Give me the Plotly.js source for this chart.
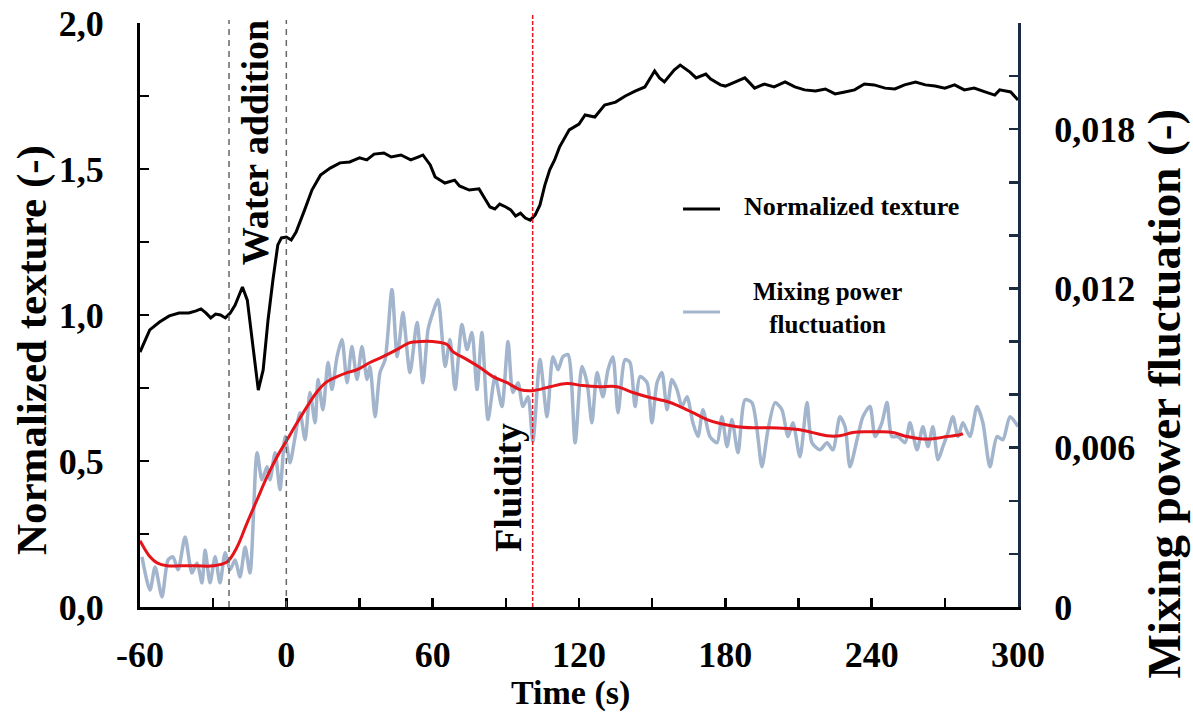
<!DOCTYPE html>
<html>
<head>
<meta charset="utf-8">
<script src="https://cdn.plot.ly/plotly-3.0.1.min.js"></script>
<style>html,body{margin:0;padding:0;background:#fff;}#chart{width:1193px;height:715px;}</style>
</head>
<body>
<div id="chart"></div>
<script>
// ---- Data ----
const textureTime = [-60,-58,-56,-52,-48,-44,-40,-37,-35,-33,-31,-29,-27,-25,-23,-21,-18,-16,-14,-11.5,-9.5,-7.5,-5.5,-3.5,-2,0,2,4,7.5,10.5,14,18,22,26,28,30,33,36,40,43,47,51,54,56,59,61,63,65,69,71,75,79,81.5,83.5,85.5,87.5,90,92,94,96,98,100,102,104,106,108,110,112,116,120,122.5,126.5,130.5,135,139,143,147,151,153,155,159,161.5,165.5,168,172,174,178,180,182,186,188,190,192,196,200,204.5,208.5,212.5,217,221,225,229,233,237,241,245.5,249.5,253.5,258,262,266,270,274,278,282,286.5,290.5,292.5,297,300];
const textureValue = [0.873,0.914,0.949,0.976,0.997,1.007,1.007,1.014,1.021,1.007,0.99,1.003,1.0,0.99,1.007,1.034,1.096,1.051,0.914,0.743,0.812,0.983,1.12,1.24,1.264,1.267,1.257,1.284,1.36,1.428,1.479,1.503,1.521,1.524,1.531,1.538,1.531,1.551,1.555,1.541,1.548,1.531,1.541,1.548,1.514,1.473,1.462,1.452,1.462,1.442,1.428,1.432,1.397,1.37,1.363,1.38,1.37,1.36,1.339,1.349,1.332,1.325,1.342,1.377,1.445,1.497,1.531,1.575,1.634,1.654,1.685,1.678,1.719,1.729,1.75,1.767,1.781,1.836,1.812,1.798,1.839,1.856,1.832,1.812,1.825,1.808,1.788,1.784,1.791,1.805,1.812,1.795,1.777,1.791,1.781,1.798,1.781,1.771,1.767,1.774,1.757,1.764,1.771,1.791,1.788,1.777,1.774,1.788,1.798,1.788,1.784,1.777,1.788,1.771,1.777,1.764,1.753,1.771,1.764,1.736];

const powerTime = [-59.2,-55.9,-53.8,-51.0,-48.5,-46.5,-44.4,-41.5,-38.7,-36.6,-34.6,-33.3,-31.3,-29.2,-27.2,-25.1,-23.1,-21.0,-19.0,-16.9,-14.9,-12.0,-10.0,-7.9,-6.7,-4.6,-2.6,-0.5,1.5,3.6,5.6,7.7,9.7,11.8,13.0,15.0,17.1,18.7,20.8,22.8,24.9,26.9,29.0,31.0,33.1,34.3,36.4,38.4,40.5,43.3,45.4,46.6,47.8,50.7,53.6,56.0,58.1,60.1,62.2,65.1,67.1,69.2,72.0,74.1,76.1,78.2,80.2,82.7,85.6,88.4,90.9,92.9,95.0,97.0,99.1,101.1,104.0,106.9,109.3,111.4,113.4,115.5,118.4,121.2,123.3,125.3,127.4,129.8,131.9,133.9,136.0,138.9,140.9,143.0,145.0,147.9,149.9,152.0,154.0,156.1,158.1,160.2,162.2,164.3,166.7,168.8,170.8,173.7,176.6,178.6,180.7,182.7,185.2,188.1,190.9,193.0,195.0,197.5,200.4,203.2,205.7,207.7,210.6,213.5,215.5,218.8,221.7,224.1,227.0,229.1,231.1,234.0,236.4,239.3,241.4,244.2,246.3,248.3,250.8,253.7,255.7,258.6,261.0,263.1,265.1,267.2,269.2,271.3,273.3,275.4,277.4,280.3,283.2,285.6,288.5,291.4,293.8,296.7,300];
const powerValue = [0.00189,0.00064,0.00151,0.00038,0.00177,0.00189,0.00140,0.00264,0.00128,0.00166,
0.00091,0.00215,0.00091,0.00189,0.00091,0.00204,0.00140,0.00177,0.00113,0.00226,
0.00128,0.00581,0.00479,0.00528,0.00479,0.00581,0.00442,0.00642,0.00543,0.00642,
0.00732,0.00630,0.00808,0.00694,0.00857,0.00743,0.00921,0.00819,0.00943,0.01008,
0.00845,0.00981,0.00857,0.00981,0.00857,0.00906,0.00717,0.00883,0.00932,0.01196,
0.00943,0.01019,0.01109,0.00883,0.01072,0.00845,0.01045,0.01109,0.01158,0.00906,
0.01008,0.00819,0.01064,0.00970,0.01034,0.00819,0.01034,0.00706,0.00868,0.00755,
0.01000,0.00808,0.00845,0.00755,0.00792,0.00623,0.00932,0.00717,0.00943,0.00894,
0.00943,0.00951,0.00619,0.00906,0.00845,0.00694,0.00883,0.00792,0.00894,0.00943,
0.00732,0.00932,0.00921,0.00755,0.00868,0.00845,0.00694,0.00845,0.00883,0.00743,
0.00857,0.00819,0.00755,0.00792,0.00694,0.00642,0.00743,0.00642,0.00619,0.00717,
0.00604,0.00706,0.00581,0.00781,0.00770,0.00668,0.00528,0.00668,0.00770,0.00743,
0.00642,0.00694,0.00566,0.00770,0.00619,0.00592,0.00619,0.00592,0.00717,0.00679,
0.00528,0.00630,0.00717,0.00755,0.00642,0.00694,0.00770,0.00642,0.00642,0.00619,
0.00694,0.00592,0.00679,0.00604,0.00679,0.00555,0.00604,0.00657,0.00717,0.00642,
0.00694,0.00642,0.00755,0.00694,0.00528,0.00642,0.00630,0.00717,0.00680];

const smoothTime = [-60,-55.9,-53.0,-48.9,-43.6,-36.6,-30.1,-24.3,-20.2,-16.1,-12.0,-7.9,-3.8,0.3,4.4,8.5,12.6,16.7,20.8,24.9,29.0,34.3,39.6,45.4,50.7,54.8,60.1,65.9,68.3,74.1,79.4,84.7,90.5,95.8,101.1,108.1,115.1,121.6,128.6,135.6,142.1,149.1,156.1,161.4,166.7,172.5,177.8,184.8,191.3,198.3,205.3,210.6,215.9,221.7,227.0,232.3,238.1,243.4,248.7,254.5,259.8,265.1,270.9,276.2,277.4];
const smoothValue = [0.00250,0.00189,0.00166,0.00155,0.00155,0.00155,0.00155,0.00170,0.00226,0.00317,
0.00404,0.00491,0.00566,0.00630,0.00694,0.00755,0.00811,0.00849,0.00868,0.00883,
0.00894,0.00921,0.00943,0.00970,0.00996,0.01000,0.01000,0.00989,0.00962,0.00932,
0.00902,0.00868,0.00845,0.00819,0.00815,0.00830,0.00842,0.00834,0.00830,0.00830,
0.00808,0.00789,0.00774,0.00755,0.00732,0.00706,0.00691,0.00679,0.00675,0.00675,
0.00672,0.00668,0.00657,0.00645,0.00645,0.00657,0.00660,0.00660,0.00657,0.00642,
0.00634,0.00634,0.00642,0.00649,0.00653];

// Event markers (s)
const waterStart = -23.5;
const waterEnd = 0;
const fluidityTime = 101;

// Tick labels
const xTickVals = [-60,-30,0,30,60,90,120,150,180,210,240,270,300];
const xTickText = ['-60','','0','','60','','120','','180','','240','','300'];
const yTickVals = [0,0.25,0.5,0.75,1,1.25,1.5,1.75,2];
const yTickText = ['0,0','','0,5','','1,0','','1,5','','2,0'];
const y2TickVals = [0,0.002,0.004,0.006,0.008,0.010,0.012,0.014,0.016,0.018,0.020,0.022];
const y2TickText = ['0','','','0,006','','','0,012','','','0,018','',''];

const FONT = 'Liberation Serif, Times New Roman, serif';
const tickFont = {family: FONT, size: 36, color: '#000', weight: 'bold'};

const traces = [
  {x: powerTime, y: powerValue, yaxis: 'y2', type: 'scatter', mode: 'lines',
   line: {color: '#a3b5cc', width: 3.5, shape: 'spline', smoothing: 0.7}, name: 'Mixing power fluctuation', showlegend: false},
  {x: smoothTime, y: smoothValue, yaxis: 'y2', type: 'scatter', mode: 'lines',
   line: {color: '#e5141b', width: 3, shape: 'spline', smoothing: 1}, name: 'Smoothed', showlegend: false},
  {x: textureTime, y: textureValue, yaxis: 'y', type: 'scatter', mode: 'lines',
   line: {color: '#000', width: 3}, name: 'Normalized texture', showlegend: false}
];

const axisCommon = {showgrid: false, zeroline: false, showline: true, linewidth: 3,
  ticks: 'inside', ticklen: 9, tickwidth: 2.5, tickfont: tickFont, tickmode: 'array', ticklabelstandoff: 26};

const layout = {
  width: 1193, height: 715,
  margin: {l: 140, r: 175, t: 23, b: 108},
  paper_bgcolor: '#fff', plot_bgcolor: '#fff',
  showlegend: false,
  xaxis: Object.assign({}, axisCommon, {range: [-60, 300], tickvals: xTickVals, ticktext: xTickText,
    linecolor: '#000', tickcolor: '#000', ticklabelstandoff: 14}),
  yaxis: Object.assign({}, axisCommon, {range: [0, 2], tickvals: yTickVals, ticktext: yTickText,
    linecolor: '#000', tickcolor: '#000'}),
  yaxis2: Object.assign({}, axisCommon, {range: [0, 0.022], tickvals: y2TickVals, ticktext: y2TickText,
    overlaying: 'y', side: 'right', linecolor: '#1c2b40', tickcolor: '#1c2b40'}),
  shapes: [
    {type: 'line', xref: 'x', yref: 'paper', x0: waterStart, x1: waterStart, y0: 0, y1: 1.005,
     line: {color: '#666', width: 1.5, dash: '6px,5px'}},
    {type: 'line', xref: 'x', yref: 'paper', x0: waterEnd, x1: waterEnd, y0: 0, y1: 1.005,
     line: {color: '#666', width: 1.5, dash: '6px,5px'}},
    {type: 'line', xref: 'x', yref: 'paper', x0: fluidityTime, x1: fluidityTime, y0: 0, y1: 1.014,
     line: {color: '#e8141c', width: 1.5, dash: '4px,2px'}},
    // legend samples
    {type: 'line', xref: 'paper', yref: 'paper', x0: 0.6185, x1: 0.6606, y0: 0.6815, y1: 0.6815,
     line: {color: '#000', width: 3}},
    {type: 'line', xref: 'paper', yref: 'paper', x0: 0.6185, x1: 0.6606, y0: 0.505, y1: 0.505,
     line: {color: '#a3b5cc', width: 3}}
  ],
  annotations: [
    {text: 'Water addition', xref: 'x', yref: 'y', x: -12.85, y: 1.592, textangle: -90, showarrow: false,
     xanchor: 'center', yanchor: 'middle', font: {family: FONT, size: 38, color: '#000', weight: 'bold'}},
    {text: 'Fluidity', xref: 'x', yref: 'y', x: 90.9, y: 0.408, textangle: -90, showarrow: false,
     xanchor: 'center', yanchor: 'middle', font: {family: FONT, size: 38, color: '#000', weight: 'bold'}},
    {text: 'Normalized texture', xref: 'paper', yref: 'paper', x: 0.6856, y: 0.6866, showarrow: false,
     xanchor: 'left', yanchor: 'middle', font: {family: FONT, size: 26, color: '#000', weight: 'bold'}},
    {text: 'Mixing power<br>fluctuation', xref: 'paper', yref: 'paper', x: 0.7825, y: 0.512, showarrow: false,
     xanchor: 'center', yanchor: 'middle', align: 'center', font: {family: FONT, size: 25, color: '#000', weight: 'bold'}},
    {text: 'Time (s)', xref: 'paper', yref: 'paper', x: 0.49, y: -0.148, showarrow: false,
     xanchor: 'center', yanchor: 'middle', font: {family: FONT, size: 34, color: '#000', weight: 'bold'}},
    {text: 'Normalized texture (-)', xref: 'paper', yref: 'paper', x: -0.123, y: 0.44, textangle: -90, showarrow: false,
     xanchor: 'center', yanchor: 'middle', font: {family: FONT, size: 43, color: '#000', weight: 'bold'}},
    {text: 'Mixing power fluctuation (-)', xref: 'paper', yref: 'paper', x: 1.166, y: 0.365, textangle: -90, showarrow: false,
     xanchor: 'center', yanchor: 'middle', font: {family: FONT, size: 47, color: '#000', weight: 'bold'}}
  ]
};

Plotly.newPlot('chart', traces, layout, {displayModeBar: false, staticPlot: true});
</script>
</body>
</html>
